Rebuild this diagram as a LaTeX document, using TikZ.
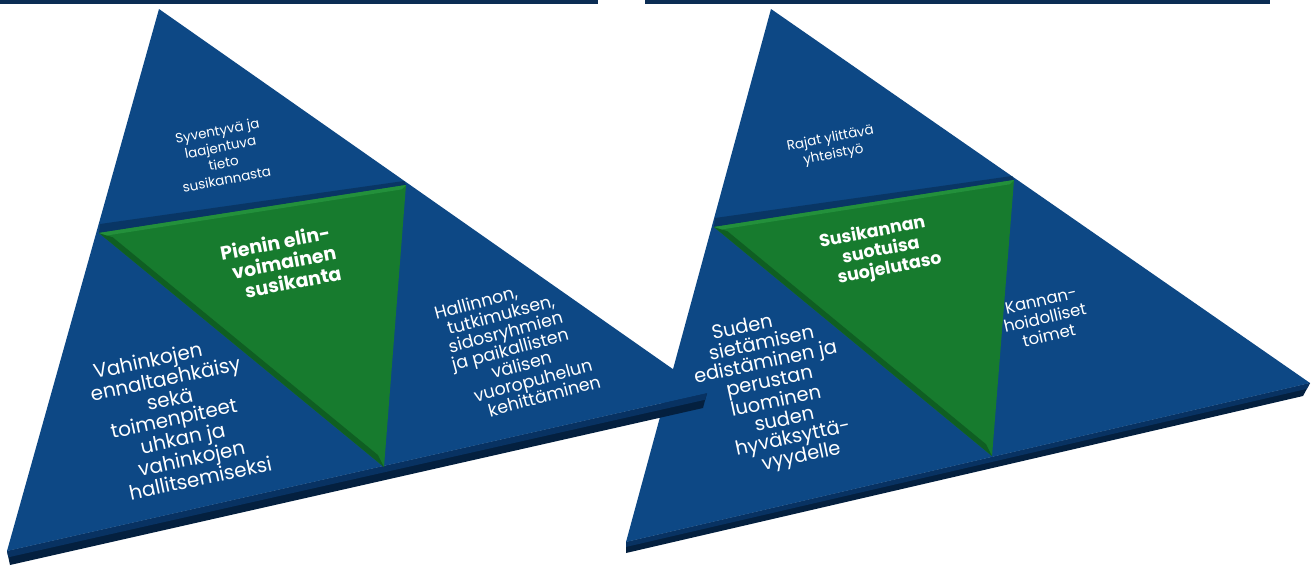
\documentclass[tikz,border=0pt]{standalone}
\usepackage{fontspec}
\setmainfont{Poppins}
\usetikzlibrary{calc}
\definecolor{faceblue}{HTML}{0D4885}
\definecolor{facegreen}{HTML}{177B2E}
\definecolor{greendark}{HTML}{0F5E22}
\definecolor{greenlight}{HTML}{23903B}
\definecolor{shadeblue}{HTML}{093665}
\definecolor{rimtop}{HTML}{083262}
\definecolor{rimbottom}{HTML}{04203F}
\definecolor{barblue}{HTML}{0B2D54}
\tikzset{
  face/.style={fill=faceblue},
  core/.style={fill=facegreen},
  rimup/.style={fill=rimtop},
  rimlow/.style={fill=rimbottom},
  darkbevel/.style={fill=greendark},
  lightbevel/.style={fill=greenlight},
  shadowstrip/.style={fill=shadeblue},
  bar/.style={fill=barblue},
  lbl/.style={text=white, align=center, inner sep=0pt},
}
\newcommand\padl[1]{\hspace*{#1pt}}
\begin{document}
\begin{tikzpicture}[x=1pt,y=-1pt]
\useasboundingbox (0,0) rectangle (1311,565);
\fill[bar] (0,0) rectangle (598,4);
\fill[bar] (645,0) rectangle (1270,4);

% ---------- right pyramid ----------
\coordinate (RA) at (771,9);
\coordinate (RL) at (626,542);
\coordinate (RR) at (1310,383);
\coordinate (RLb) at (626,553);
\coordinate (RRb) at (1303,396);
\coordinate (RG1) at (714,227);
\coordinate (RG2) at (1014,180);
\coordinate (RG3) at (992,456);
\coordinate (RGc) at (barycentric cs:RG1=1,RG2=1,RG3=1);
\fill[rimlow] (RL) -- (RR) -- (RRb) -- (RLb) -- cycle;
\fill[rimup] (RL) -- (RR) -- ($(RR)!0.45!(RRb)$) -- ($(RL)!0.45!(RLb)$) -- cycle;
\fill[face] (RA) -- (RR) -- (RL) -- cycle;
\fill[shadowstrip] (RG1) -- (RG2) -- ($(RG2)+(-2,-4)$) -- ($(RG1)+(1,-9)$) -- cycle;
\fill[core] (RG1) -- (RG2) -- (RG3) -- cycle;
\fill[darkbevel] (RG1) -- (RG3) -- ($(RG3)!0.07!(RGc)$) -- ($(RG1)!0.07!(RGc)$) -- cycle;
\fill[lightbevel] (RG1) -- (RG2) -- ($(RG2)!0.04!(RGc)$) -- ($(RG1)!0.04!(RGc)$) -- cycle;

\node[lbl, rotate=11, font=\fontsize{13.5}{16.5}\selectfont] (rtop) at (832,147) {Rajat ylittävä\\yhteistyö};
\node[lbl, rotate=11, font=\bfseries\fontsize{17.5}{19.5}\selectfont] (rcore) at (881,251) {Susikannan\padl{10}\\suotuisa\\\padl{10}suojelutaso};
\node[lbl, rotate=12, font=\fontsize{19.5}{19.5}\selectfont] (rleft) at (772,393) {Suden\padl{31}\\sietämisen\padl{22}\\edistäminen ja\padl{13}\\perustan\padl{4}\\\padl{4}luominen\\\padl{13}suden\\\padl{22}hyväksyttä-\\\padl{31}vyydelle};
\node[lbl, rotate=13, font=\fontsize{16.5}{18}\selectfont] (rright) at (1045,318) {Kannan-\\hoidolliset\\toimet};

% ---------- left pyramid ----------
\coordinate (LA) at (159,9);
\coordinate (LL) at (7,551);
\coordinate (LR) at (707,393);
\coordinate (LLb) at (10,565);
\coordinate (LRb) at (703,408);
\coordinate (LG1) at (99,233);
\coordinate (LG2) at (406,185);
\coordinate (LG3) at (384,467);
\coordinate (LGc) at (barycentric cs:LG1=1,LG2=1,LG3=1);
\fill[rimlow] (LL) -- (LR) -- (LRb) -- (LLb) -- cycle;
\fill[rimup] (LL) -- (LR) -- ($(LR)!0.45!(LRb)$) -- ($(LL)!0.45!(LLb)$) -- cycle;
\fill[face] (LA) -- (LR) -- (LL) -- cycle;
\fill[shadowstrip] (LG1) -- (LG2) -- ($(LG2)+(-2,-4)$) -- ($(LG1)+(1,-9)$) -- cycle;
\fill[core] (LG1) -- (LG2) -- (LG3) -- cycle;
\fill[darkbevel] (LG1) -- (LG3) -- ($(LG3)!0.07!(LGc)$) -- ($(LG1)!0.07!(LGc)$) -- cycle;
\fill[lightbevel] (LG1) -- (LG2) -- ($(LG2)!0.04!(LGc)$) -- ($(LG1)!0.04!(LGc)$) -- cycle;

\node[lbl, rotate=11, font=\fontsize{13.5}{16.5}\selectfont] (ltop) at (222,155) {Syventyvä ja\\laajentuva\\tieto\\susikannasta};
\node[lbl, rotate=11, font=\bfseries\fontsize{19}{21}\selectfont] (lcore) at (284,262) {Pienin elin-\padl{10}\\voimainen\\\padl{10}susikanta};
\node[lbl, rotate=12, font=\fontsize{20}{19.5}\selectfont] (lleft) at (174,419) {Vahinkojen\padl{27}\\ennaltaehkäisy\padl{18}\\sekä\padl{9}\\toimenpiteet\\\padl{9}uhkan ja\\\padl{18}vahinkojen\\\padl{27}hallitsemiseksi};
\node[lbl, rotate=15, font=\fontsize{17.5}{18}\selectfont] (lright) at (510,349) {Hallinnon,\padl{42}\\tutkimuksen,\padl{28}\\sidosryhmien\padl{14}\\ja paikallisten\\\padl{14}välisen\\\padl{28}vuoropuhelun\\\padl{42}kehittäminen};
\end{tikzpicture}
\end{document}
